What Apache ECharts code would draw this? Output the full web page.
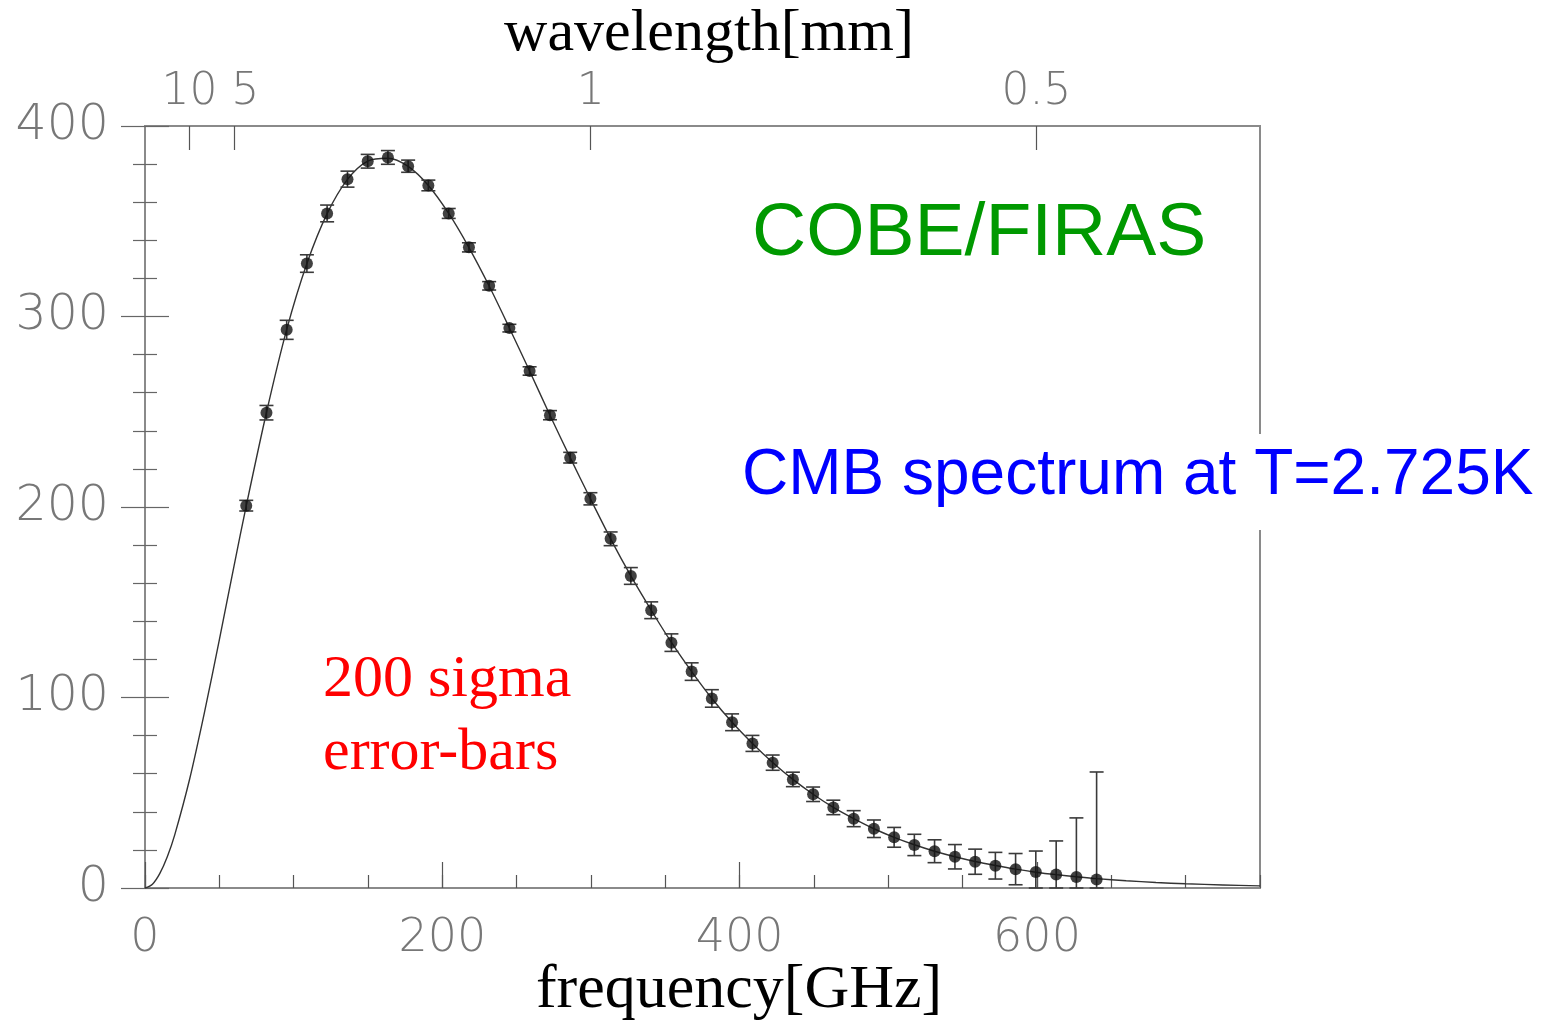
<!DOCTYPE html>
<html>
<head>
<meta charset="utf-8">
<script src="https://cdn.jsdelivr.net/npm/echarts@6/dist/echarts.min.js"></script>
<style>
  html, body { margin: 0; padding: 0; background: #fff; }
  #myChart { width: 1552px; height: 1027px; }
</style>
</head>
<body>
<div id="myChart"></div>
<script>
// FIRAS measured points (GHz, MJy/sr) and 200-sigma error bars
var freq = [68.1, 81.7, 95.3, 108.9, 122.5, 136.2, 149.8, 163.4, 177.0, 190.6, 204.3, 217.9, 231.5, 245.1, 258.7,
  272.4, 286.0, 299.6, 313.2, 326.8, 340.5, 354.1, 367.7, 381.3, 394.9, 408.6, 422.2, 435.8, 449.4, 463.0,
  476.7, 490.3, 503.9, 517.5, 531.1, 544.8, 558.4, 572.0, 585.6, 599.2, 612.9, 626.5, 640.1];
var intensity = [200.7, 249.5, 293.0, 327.8, 354.1, 372.1, 381.5, 383.5, 378.9, 368.8, 354.1, 336.3, 316.1, 293.9, 271.4,
  248.2, 225.9, 204.3, 183.3, 163.8, 145.8, 128.8, 113.6, 99.5, 87.0, 75.9, 65.8, 57.0, 49.2, 42.3,
  36.4, 31.1, 26.6, 22.6, 19.3, 16.4, 13.8, 11.7, 9.9, 8.4, 7.1, 5.8, 4.5];
var errorBar = [2.8, 3.8, 5.0, 4.6, 4.4, 4.2, 3.6, 3.6, 3.2, 2.8, 2.6, 2.4, 2.2, 2.0, 2.2,
  2.4, 2.8, 3.2, 3.6, 4.4, 4.4, 4.6, 4.6, 4.6, 4.4, 4.2, 4.0, 3.8, 3.8, 3.8,
  4.2, 4.6, 5.2, 5.6, 6.0, 6.4, 6.6, 7.0, 8.2, 11.0, 17.6, 31.0, 56.4];

// blackbody curve
var curveFreq = [0, 5, 10, 15, 20, 30, 40, 50, 60, 68.1, 81.7, 95.3, 108.9, 122.5, 136.2, 149.8, 163.4, 177.0, 190.6,
  204.3, 217.9, 231.5, 245.1, 258.7, 272.4, 286.0, 299.6, 313.2, 326.8, 340.5, 354.1, 367.7, 381.3, 394.9,
  408.6, 422.2, 435.8, 449.4, 463.0, 476.7, 490.3, 503.9, 517.5, 531.1, 544.8, 558.4, 572.0, 585.6, 599.2,
  612.9, 626.5, 640.1, 660, 680, 700, 725, 750];
var curveIntensity = [0, 2.0, 7.7, 16.4, 27.9, 57.1, 92.2, 130.3, 169.5, 200.6, 249.6, 293.1, 327.8, 354.0, 372.0, 381.6, 383.1, 378.8, 368.8,
  354.1, 336.2, 316.0, 294.0, 271.4, 248.2, 225.9, 204.3, 183.3, 163.8, 145.8, 128.9, 113.6, 99.5, 87.0,
  75.9, 65.9, 57.0, 49.2, 42.3, 36.4, 31.1, 26.6, 22.7, 19.3, 16.4, 13.9, 11.8, 9.9, 8.3,
  7.0, 5.9, 4.9, 3.8, 2.9, 2.2, 1.6, 1.1];

// top axis: wavelength ticks in mm
var wavelengthTicks = [10, 5, 1, 0.5];

var C_GHZ_MM = 299.79; // c in mm*GHz
var topTickFreq = wavelengthTicks.map(function (w) { return C_GHZ_MM / w; });

var points = freq.map(function (f, i) { return [f, intensity[i]]; });
var errData = freq.map(function (f, i) {
  return [f, intensity[i], Math.max(0, intensity[i] - errorBar[i]), intensity[i] + errorBar[i]];
});
var curve = curveFreq.map(function (f, i) { return [f, curveIntensity[i]]; });

var gray = '#8a8a8a';
var labelFont = {fontSize: 46, color: '#777', fontFamily: 'DejaVu Sans', fontWeight: 200};

var myChart = echarts.init(document.getElementById('myChart'));
myChart.setOption({
  animation: false,
  backgroundColor: '#fff',
  grid: {left: 145, right: 292, top: 126, bottom: 139, show: true, borderColor: gray, borderWidth: 2},
  xAxis: [
    {
      type: 'value', position: 'bottom', min: 0, max: 750, interval: 50,
      axisLine: {show: true, lineStyle: {color: gray, width: 2}},
      axisTick: {show: true, inside: true, length: 13, lineStyle: {color: '#555', width: 1.2}},
      axisLabel: {show: false},
      splitLine: {show: false}
    },
    {
      type: 'value', position: 'bottom', min: 0, max: 750, interval: 200,
      axisLine: {show: false},
      axisTick: {show: true, inside: true, length: 26, lineStyle: {color: '#555', width: 1.2}},
      axisLabel: Object.assign({margin: 28, showMaxLabel: false}, labelFont),
      splitLine: {show: false}
    },
    {
      type: 'value', position: 'top', min: 0, max: 750,
      axisLine: {show: true, lineStyle: {color: gray, width: 2}},
      axisTick: {show: true, inside: true, length: 24, customValues: topTickFreq, lineStyle: {color: '#555', width: 1.2}},
      axisLabel: Object.assign({
        margin: 11, customValues: topTickFreq, hideOverlap: false,
        formatter: function (v) {
          var w = +(C_GHZ_MM / v).toFixed(1);
          return w === 5 ? '{shift|5}' : String(w);
        },
        rich: {shift: {padding: [0, 0, 0, 22], fontSize: 44, color: '#777', fontFamily: 'DejaVu Sans', fontWeight: 200}}
      }, labelFont, {fontSize: 44}),
      splitLine: {show: false}
    }
  ],
  yAxis: [
    {
      type: 'value', position: 'left', min: 0, max: 400, interval: 100,
      axisLine: {show: true, lineStyle: {color: gray, width: 2}},
      axisTick: {show: true, inside: true, length: 24, lineStyle: {color: '#666', width: 1.2}},
      minorTick: {show: true, splitNumber: 5, length: 12, lineStyle: {color: '#666', width: 1.2}},
      axisLabel: Object.assign({margin: 36, padding: [12, 0, 0, 0]}, labelFont, {fontSize: 49}),
      splitLine: {show: false}
    },
    {
      type: 'value', position: 'right', min: 0, max: 400, interval: 100,
      axisLine: {show: true, lineStyle: {color: gray, width: 2}},
      axisTick: {show: true, inside: true, length: 24, lineStyle: {color: '#666', width: 1.2}},
      minorTick: {show: true, splitNumber: 5, length: 12, lineStyle: {color: '#666', width: 1.2}},
      axisLabel: {show: false},
      splitLine: {show: false}
    }
  ],
  series: [
    {
      name: 'blackbody', type: 'line', xAxisIndex: 0, yAxisIndex: 0,
      data: curve, smooth: 0.3, showSymbol: false,
      lineStyle: {color: '#333', width: 1.4}, z: 2
    },
    {
      name: 'errorbars', type: 'custom', xAxisIndex: 0, yAxisIndex: 0,
      data: errData, z: 3,
      renderItem: function (params, api) {
        var x = api.value(0);
        var lo = api.coord([x, api.value(2)]);
        var hi = api.coord([x, api.value(3)]);
        var hw = 7;
        var st = {stroke: '#3a3a3a', lineWidth: 1.6};
        return {
          type: 'group',
          children: [
            {type: 'line', shape: {x1: hi[0], y1: hi[1], x2: lo[0], y2: lo[1]}, style: st},
            {type: 'line', shape: {x1: hi[0] - hw, y1: hi[1], x2: hi[0] + hw, y2: hi[1]}, style: st},
            {type: 'line', shape: {x1: lo[0] - hw, y1: lo[1], x2: lo[0] + hw, y2: lo[1]}, style: st}
          ]
        };
      }
    },
    {
      name: 'FIRAS', type: 'scatter', xAxisIndex: 0, yAxisIndex: 0,
      data: points, symbolSize: 12,
      itemStyle: {color: '#111'}, z: 4
    }
  ],
  graphic: [
    {type: 'text', z: 100, style: {text: 'wavelength[mm]', x: 709, y: 4, align: 'center', verticalAlign: 'top',
      font: '60px "Liberation Serif"', fill: '#000'}},
    {type: 'text', z: 100, style: {text: 'frequency[GHz]', x: 739, y: 960, align: 'center', verticalAlign: 'top',
      font: '62px "Liberation Serif"', fill: '#000'}},
    {type: 'text', z: 100, style: {text: 'COBE/FIRAS', x: 752, y: 197, align: 'left', verticalAlign: 'top',
      font: '75px "Liberation Sans"', fill: '#009900'}},
    {type: 'text', z: 100, style: {text: 'CMB spectrum at T=2.725K', x: 736, y: 434, align: 'left', verticalAlign: 'top',
      font: '64px "Liberation Sans"', fill: '#0000ff', backgroundColor: '#fff', padding: [10, 6, 22, 6]}},
    {type: 'text', z: 100, style: {text: '200 sigma', x: 323, y: 650, align: 'left', verticalAlign: 'top',
      font: '60px "Liberation Serif"', fill: '#ff0000'}},
    {type: 'text', z: 100, style: {text: 'error-bars', x: 323, y: 723, align: 'left', verticalAlign: 'top',
      font: '60px "Liberation Serif"', fill: '#ff0000'}}
  ]
});
</script>
</body>
</html>
